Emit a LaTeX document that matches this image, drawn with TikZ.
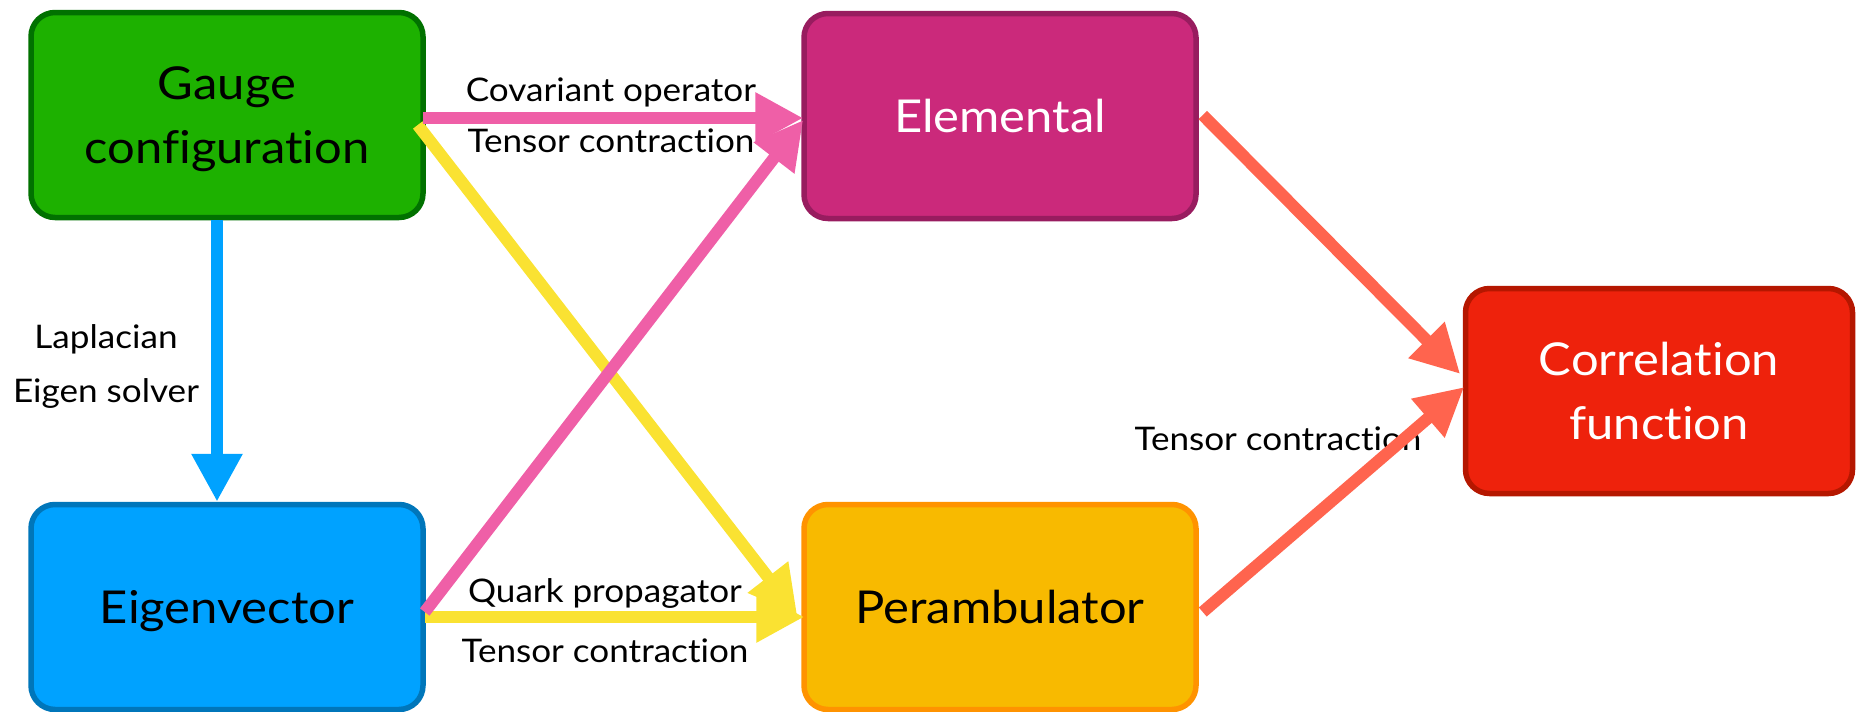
\documentclass[tikz,border=0pt]{standalone}
\usepackage{fontspec}
\setmainfont{Lato}[FakeStretch=1.08, Ligatures={NoCommon}]
\usetikzlibrary{arrows.meta,calc}
\definecolor{gfill}{HTML}{1DB100}
\definecolor{gdraw}{HTML}{017100}
\definecolor{mfill}{HTML}{CB297B}
\definecolor{mdraw}{HTML}{981C5F}
\definecolor{bfill}{HTML}{00A2FF}
\definecolor{bdraw}{HTML}{0076BA}
\definecolor{yfill}{HTML}{F8BA00}
\definecolor{ydraw}{HTML}{FF9300}
\definecolor{rfill}{HTML}{EE220C}
\definecolor{rdraw}{HTML}{B51700}
\definecolor{abluec}{HTML}{00A2FF}
\definecolor{apinkc}{HTML}{EF5FA7}
\definecolor{ayellowc}{HTML}{FAE232}
\definecolor{asalmonc}{HTML}{FF644E}
\begin{document}
\begin{tikzpicture}[x=1pt,y=-1pt,
  box/.style={draw, line width=5.5pt, rounded corners=24pt, minimum width=392pt,
    minimum height=205pt, inner sep=0pt, align=center,
    font=\fontsize{45.3}{64}\selectfont},
  lbl/.style={anchor=base, font=\fontsize{32.5}{38}\selectfont, inner sep=0pt},
  conn/.style={line width=12pt, -{Triangle[length=48pt,width=48pt]}}
]
\useasboundingbox (0,0) rectangle (1856,712);

\node[box, fill=gfill, draw=gdraw] (gauge) at (227,115) {Gauge\\\smash{configuration}};
\node[box, fill=mfill, draw=mdraw, text=white] (elem) at (1000,116) {\vphantom{E}\smash{Elemental}};
\node[box, fill=bfill, draw=bdraw] (eigen) at (227,607) {\vphantom{E}\smash{Eigenvector}};
\node[box, fill=yfill, draw=ydraw] (peram) at (1000,607) {\vphantom{E}\smash{Perambulator}};
\node[box, fill=rfill, draw=rdraw, text=white, minimum width=387pt] (corr) at (1659,391) {Correlation\\\smash{function}};

\node[lbl] (l1) at (611,101) {Covariant operator};
\node[lbl] (l2) at (611,152) {Tensor contraction};
\node[lbl] (l3) at (106,348) {Laplacian};
\node[lbl] (l4) at (106,402) {Eigen solver};
\node[lbl] (l5) at (605,602) {Quark propagator};
\node[lbl] (l6) at (605,662) {Tensor contraction};
\node[lbl] (l7) at (1278,450) {Tensor contraction};

\draw[conn, abluec] ($(gauge.south)+(-10,0)$) -- ($(eigen.north)+(-10,0)$);
\draw[conn, ayellowc] ($(gauge.east)+(-8,10)$) -- ($(peram.west)+(-4,8)$);
\draw[conn, ayellowc] ($(eigen.east)+(-1,10)$) -- ($(peram.west)+(3,10)$);
\draw[conn, apinkc] ($(gauge.east)+(-3,3)$) -- ($(elem.west)+(2,2)$);
\draw[conn, apinkc] ($(eigen.east)+(-1,5)$) -- ($(elem.west)+(2,4)$);
\draw[conn, asalmonc] ($(elem.east)+(4,-1)$) -- ($(corr.west)+(-2.5,-17)$);
\draw[conn, asalmonc] ($(peram.east)+(4,5)$) -- ($(corr.west)+(1.5,-4)$);
\end{tikzpicture}
\end{document}
